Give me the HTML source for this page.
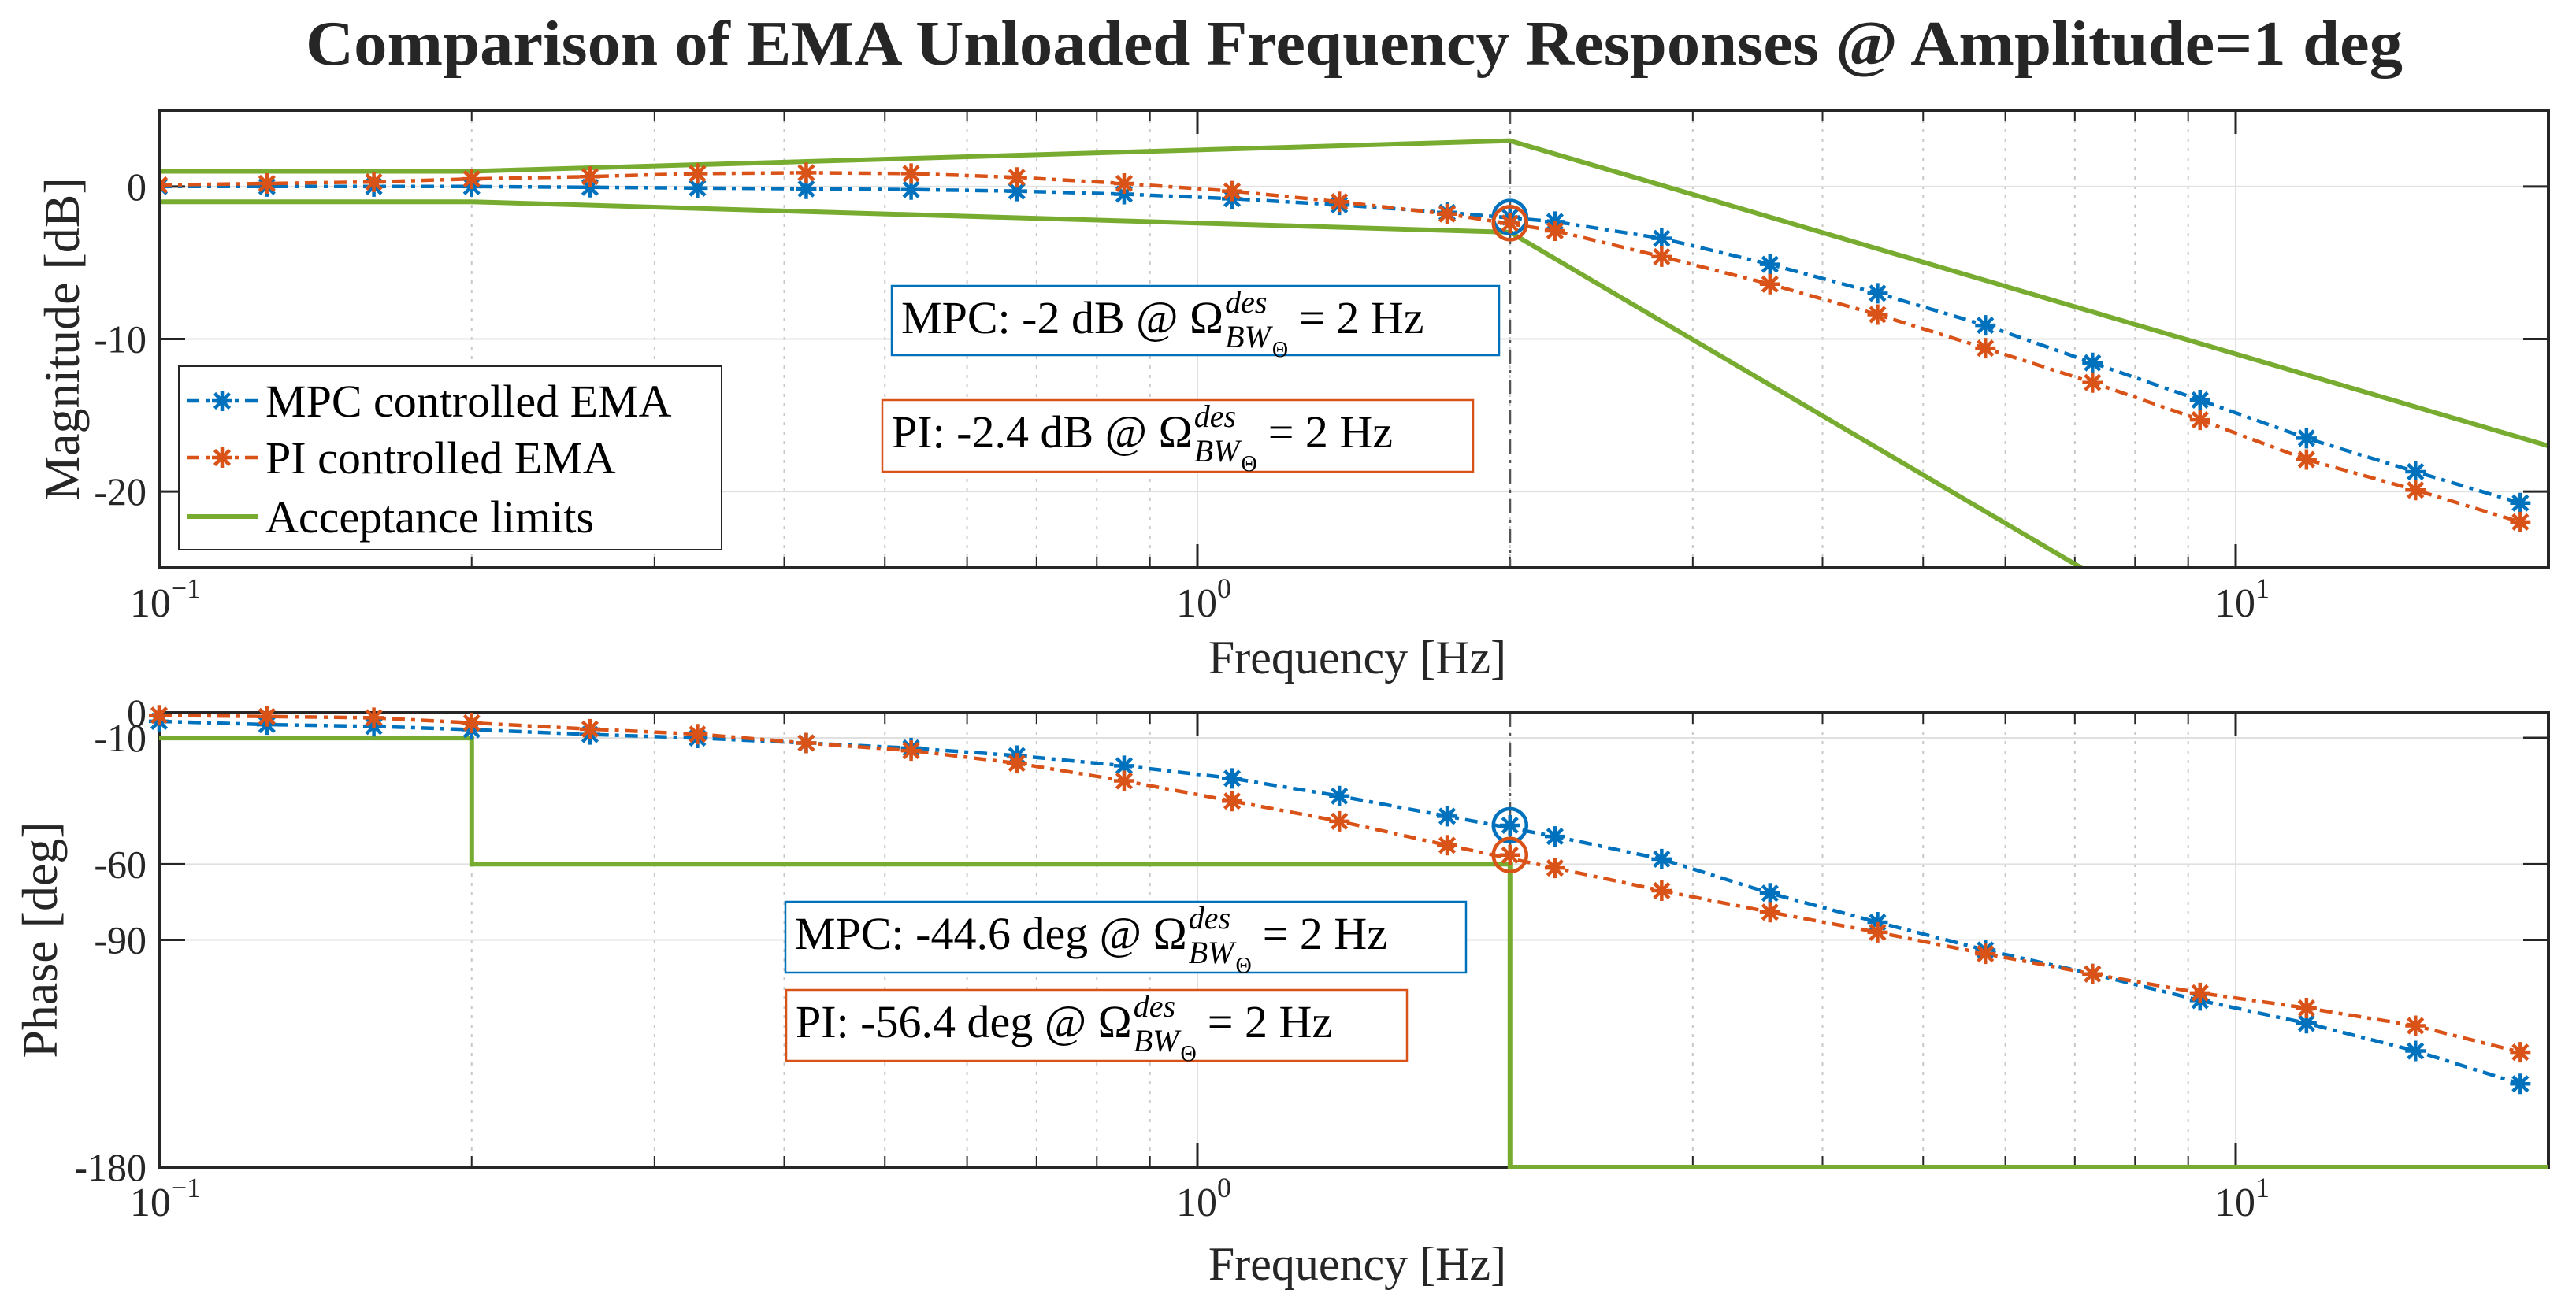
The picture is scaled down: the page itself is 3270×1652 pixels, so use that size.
<!DOCTYPE html>
<html><head><meta charset="utf-8"><style>
html,body{margin:0;padding:0;background:#fff;}
svg{display:block;font-family:"Liberation Serif","DejaVu Serif",serif;}
</style></head><body>
<svg id="fig" width="3270" height="1652" viewBox="0 0 3270 1652" xmlns="http://www.w3.org/2000/svg">
<rect width="3270" height="1652" fill="#fff"/>
<text x="1719" y="82" text-anchor="middle" font-size="80" font-weight="bold" fill="#262626" textLength="2662" lengthAdjust="spacingAndGlyphs">Comparison of EMA Unloaded Frequency Responses @ Amplitude=1 deg</text>
<g id="top"></g>
<g id="bot"></g>
</svg>
<script>
// ---- data ----
const freqs = [0.1,0.127,0.161,0.2,0.26,0.33,0.42,0.53,0.67,0.85,1.08,1.37,1.74,2.21,2.8,3.56,4.52,5.74,7.28,9.24,11.7,14.9,18.8];
const magMPC = [0,0,0,0,-0.05,-0.1,-0.15,-0.2,-0.3,-0.5,-0.8,-1.2,-1.7,-2.3,-3.4,-5.1,-7.0,-9.1,-11.56,-14.0,-16.5,-18.7,-20.75];
const magPI = [0.1,0.2,0.3,0.5,0.65,0.85,0.9,0.85,0.6,0.2,-0.3,-1.0,-1.8,-2.9,-4.6,-6.4,-8.4,-10.6,-12.85,-15.3,-17.9,-19.9,-22.0];
const phMPC = [-3.4,-4.7,-5.4,-6.7,-8.6,-10,-12,-14,-17,-21,-26,-33,-41,-49,-58,-71.5,-83,-94,-103.5,-114,-123,-134,-147];
const phPI = [-1,-1.5,-2,-4,-6.5,-8.5,-12,-15,-20,-27,-35,-43,-52.5,-61.5,-70.5,-79,-87,-95.5,-103.5,-111,-117,-124,-134.5];
const bwFreq = 2;
const bwMag = [-2.0,-2.4];
const bwPhase = [-44.6,-56.4];
const magUpperF = [0.1,0.2,2,20];
const magUpper = [1,1,3,-17];
const magLowerF = [0.1,0.2,2,7.1];
const magLower = [-1,-1,-3,-25];
const phLimF = [0.1,0.2,0.2,2,2,20];
const phLim = [-10,-10,-60,-60,-180,-180];
const magTicks = [0,-10,-20];
const phTicks = [0,-10,-60,-90,-180];
const decades = [0.1,1,10];
const decadeExp = ["\u22121","0","1"];

const NS="http://www.w3.org/2000/svg";
const BLUE="#0072BD", RED="#D95319", GREEN="#77AC30", AX="#262626";
const X0=202, DEC=1318, XL=203, XR=3235;
function xs(f){return X0+(Math.log10(f)+1)*DEC;}
const T={top:140,bot:721,min:-25,max:5}, B={top:905,bot:1482,min:-180,max:0};
function ysT(v){return T.top+(T.max-v)*(T.bot-T.top)/(T.max-T.min);}
function ysB(v){return B.top+(B.max-v)*(B.bot-B.top)/(B.max-B.min);}
function el(tag,attrs,parent){const e=document.createElementNS(NS,tag);for(const k in attrs)e.setAttribute(k,attrs[k]);parent.appendChild(e);return e;}

function star(g,x,y,c){
  const s=13,d=9.5;
  const p=el('path',{d:`M${x-s},${y}H${x+s}M${x},${y-s}V${y+s}M${x-d},${y-d}L${x+d},${y+d}M${x-d},${y+d}L${x+d},${y-d}`,stroke:c,'stroke-width':4.5,fill:'none'},g);
  
  
}

function axes(g,P,ys,ticks,ylabel,ylabelX,xlabY){
  for(let d=0.1;d<20;d*=10){
    for(let m=2;m<=9;m++){const f=d*m; if(f>=20)break; const x=xs(f);
      el('line',{x1:x,y1:P.top,x2:x,y2:P.bot,stroke:'#c8c8c8','stroke-width':2,'stroke-dasharray':'4 8'},g);
      el('line',{x1:x,y1:P.bot,x2:x,y2:P.bot-14,stroke:AX,'stroke-width':2},g);
      el('line',{x1:x,y1:P.top,x2:x,y2:P.top+14,stroke:AX,'stroke-width':2},g);
    }
  }
  decades.forEach((f,i)=>{const x=xs(f);
    el('line',{x1:x,y1:P.top,x2:x,y2:P.bot,stroke:'#e0e0e0','stroke-width':2},g);
    el('line',{x1:x,y1:P.bot,x2:x,y2:P.bot-30,stroke:AX,'stroke-width':3},g);
    el('line',{x1:x,y1:P.top,x2:x,y2:P.top+30,stroke:AX,'stroke-width':3},g);
    const t=el('text',{x:x+8,y:P.bot+62,'text-anchor':'middle','font-size':52,fill:AX},g);
    
    
    t.textContent='10';
    const s=el('tspan',{dy:-24,'font-size':36},t); s.textContent=decadeExp[i];
  });
  ticks.forEach(v=>{const y=ys(v);
    el('line',{x1:XL,y1:y,x2:XR,y2:y,stroke:'#e0e0e0','stroke-width':2},g);
    el('line',{x1:XL,y1:y,x2:XL+32,y2:y,stroke:AX,'stroke-width':3},g);
    el('line',{x1:XR,y1:y,x2:XR-32,y2:y,stroke:AX,'stroke-width':3},g);
    const t=el('text',{x:186,y:y+17,'text-anchor':'end','font-size':50,fill:AX},g);
    
    
    t.textContent=String(v);
  });
  const lab=el('text',{x:0,y:0,transform:`translate(${ylabelX},${(P.top+P.bot)/2}) rotate(-90)`,'text-anchor':'middle','font-size':64,fill:AX},g);
  
  
  lab.textContent=ylabel;
  const xl=el('text',{x:1723,y:xlabY,'text-anchor':'middle','font-size':60,fill:AX},g);
  
  
  xl.textContent='Frequency [Hz]';
  const bl=el('line',{x1:xs(bwFreq),y1:P.top,x2:xs(bwFreq),y2:P.bot,stroke:'#555','stroke-width':3,'stroke-dasharray':'18 8 4 8'},g);
  
  
}

function series(g,fs,vs,ys,c,name){
  const d=fs.map((f,i)=>(i?'L':'M')+xs(f).toFixed(1)+','+ys(vs[i]).toFixed(1)).join('');
  const p=el('path',{d:d,stroke:c,'stroke-width':4.5,fill:'none','stroke-dasharray':'16 8 5 8'},g);
  
  
  fs.forEach((f,i)=>star(g,xs(f),ys(vs[i]),c));
}
function limit(g,fs,vs,ys,name){
  const d=fs.map((f,i)=>(i?'L':'M')+xs(f).toFixed(1)+','+ys(vs[i]).toFixed(1)).join('');
  const p=el('path',{d:d,stroke:GREEN,'stroke-width':6,fill:'none'},g);
  
  
}
function bwMark(g,v,ys,c){
  const x=xs(bwFreq),y=ys(v);
  const ci=el('circle',{cx:x,cy:y,r:21,stroke:c,'stroke-width':4.5,fill:'none'},g);
  
  
  star(g,x,y,c);
}
function annot(g,x,y,w,h,lead,c,name){
  const r=el('rect',{x:x,y:y,width:w,height:h,fill:'#fff',stroke:c,'stroke-width':2.5},g);
  
  
  const by=y+60, fs=58;
  let t=el('text',{x:x+12,y:by,'font-size':fs,fill:'#000'},g);
  
  
  t.textContent=lead+' \u03A9';
  let cx=x+12+t.getComputedTextLength()+2;
  const sup=el('text',{x:cx,y:by-26,'font-size':40,'font-style':'italic',fill:'#000'},g); sup.textContent='des';
  const sub=el('text',{x:cx,y:by+18,'font-size':40,'font-style':'italic',fill:'#000'},g); sub.textContent='BW';
  const sw=sub.getComputedTextLength();
  const th=el('text',{x:cx+sw+2,y:by+30,'font-size':28,fill:'#000'},g); th.textContent='\u0398';
  cx=Math.max(cx+sw+2+th.getComputedTextLength(),cx+sup.getComputedTextLength())+14;
  const e=el('text',{x:cx,y:by,'font-size':fs,fill:'#000'},g); e.textContent='= 2 Hz';
}

// ---- top: magnitude ----
const gt=document.getElementById('top');
el('rect',{x:XL,y:T.top,width:XR-XL,height:T.bot-T.top,fill:'#fff'},gt);
axes(gt,T,ysT,magTicks,'Magnitude [dB]',100,855);
limit(gt,magUpperF,magUpper,ysT,'acceptance-upper');
const clipT=el('clipPath',{id:'ct'},gt); el('rect',{x:XL,y:T.top,width:XR-XL,height:T.bot-T.top},clipT);
const gtc=el('g',{'clip-path':'url(#ct)'},gt);
limit(gtc,magLowerF,magLower,ysT,'acceptance-lower');
series(gtc,freqs,magMPC,ysT,BLUE,'mpc-magnitude-line');
series(gtc,freqs,magPI,ysT,RED,'pi-magnitude-line');
bwMark(gtc,bwMag[0],ysT,BLUE); bwMark(gtc,bwMag[1],ysT,RED);
annot(gt,1132,363,771,88,'MPC: -2 dB @',BLUE,'mpc-magnitude-annotation');
annot(gt,1120,508,750,91,'PI: -2.4 dB @',RED,'pi-magnitude-annotation');
el('rect',{x:XL,y:T.top,width:XR-XL,height:T.bot-T.top,fill:'none',stroke:AX,'stroke-width':4},gt);
// legend
const lg=el('g',{},gt);


el('rect',{x:227,y:465,width:689,height:233,fill:'#fff',stroke:AX,'stroke-width':2},lg);
[['MPC controlled EMA',BLUE,0],['PI controlled EMA',RED,1],['Acceptance limits',GREEN,2]].forEach(([n,c,i])=>{
  const y=[509,581,656][i];
  const ln=el('line',{x1:237,y1:y,x2:327,y2:y,stroke:c,'stroke-width':i==2?6:4.5,'stroke-dasharray':i==2?'none':'16 8 5 8'},lg);
  
  
  if(i<2)star(lg,282,y,c);
  const t=el('text',{x:337,y:y+20,'font-size':58,fill:'#000'},lg);
  
  
  t.textContent=n;
});

// ---- bottom: phase ----
const gb=document.getElementById('bot');
axes(gb,B,ysB,phTicks,'Phase [deg]',72,1625);
el('rect',{x:XL,y:B.top,width:XR-XL,height:B.bot-B.top,fill:'none',stroke:AX,'stroke-width':4},gb);
const clipB=el('clipPath',{id:'cb'},gb); el('rect',{x:XL-20,y:B.top-25,width:XR-XL+40,height:B.bot-B.top+30},clipB);
const gbc=el('g',{'clip-path':'url(#cb)'},gb);
limit(gbc,phLimF,phLim.map(v=>v),ysB,'acceptance-phase');
series(gbc,freqs,phMPC,ysB,BLUE,'mpc-phase-line');
series(gbc,freqs,phPI,ysB,RED,'pi-phase-line');
bwMark(gbc,bwPhase[0],ysB,BLUE); bwMark(gbc,bwPhase[1],ysB,RED);
annot(gb,997,1145,864,90,'MPC: -44.6 deg @',BLUE,'mpc-phase-annotation');
annot(gb,998,1257,788,90,'PI: -56.4 deg @',RED,'pi-phase-annotation');
</script>
</body></html>
